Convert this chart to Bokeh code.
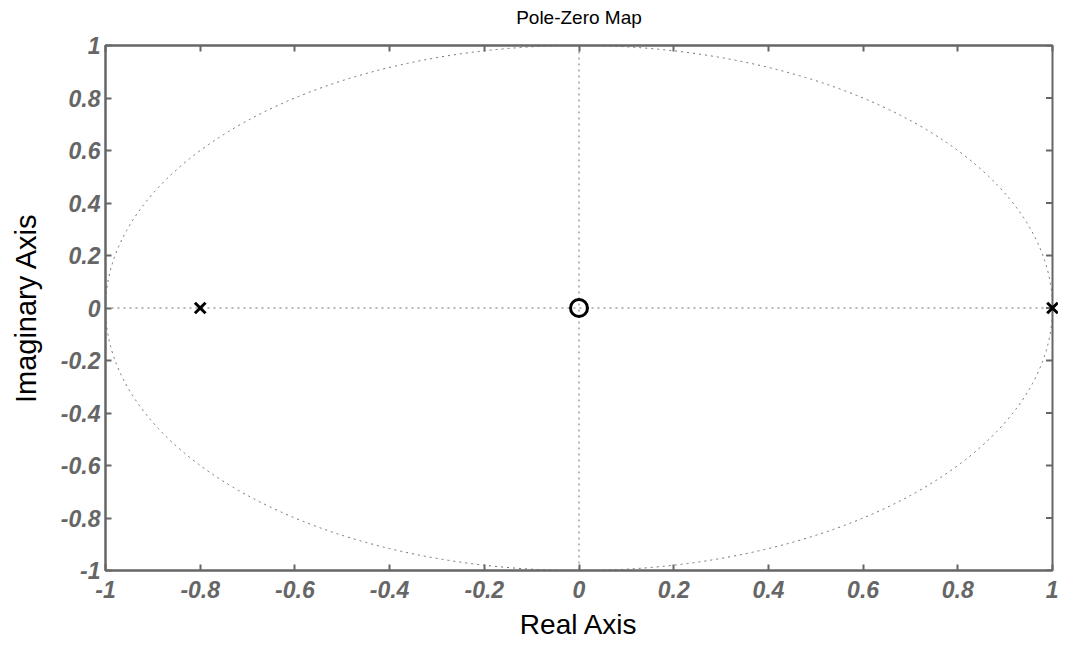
import math
from bokeh.plotting import figure
from bokeh.models import FixedTicker, Span, Range1d, LinearAxis
from bokeh.embed import file_html
from bokeh.resources import INLINE

# Data
pole_x = [-0.8, 1.0]
pole_y = [0.0, 0.0]
zero_x = [0.0]
zero_y = [0.0]
x_ticks = [-1, -0.8, -0.6, -0.4, -0.2, 0, 0.2, 0.4, 0.6, 0.8, 1]
x_tick_labels = ["-1", "-0.8", "-0.6", "-0.4", "-0.2", "0", "0.2", "0.4", "0.6", "0.8", "1"]
y_ticks = [-1, -0.8, -0.6, -0.4, -0.2, 0, 0.2, 0.4, 0.6, 0.8, 1]
y_tick_labels = ["-1", "-0.8", "-0.6", "-0.4", "-0.2", "0", "0.2", "0.4", "0.6", "0.8", "1"]
title_text = "Pole-Zero Map"

FONT = "Liberation Sans"
GREY = "#666666"
DOT = "#707070"

p = figure(width=1058, height=642, output_backend="svg", toolbar_location=None,
           x_range=Range1d(x_ticks[0], x_ticks[-1]), y_range=Range1d(y_ticks[0], y_ticks[-1]),
           min_border_left=105, min_border_right=6, min_border_top=45, min_border_bottom=72)
p.title.visible = False

p.grid.visible = False
p.outline_line_color = GREY
p.outline_line_width = 2
p.background_fill_color = "white"
p.border_fill_color = "white"

def style_axis(ax, ticks, labels):
    ax.ticker = FixedTicker(ticks=ticks)
    ax.major_label_overrides = {t: l for t, l in zip(ticks, labels)}
    ax.major_tick_in = 6
    ax.major_tick_out = 0
    ax.minor_tick_line_color = None
    ax.axis_line_color = GREY
    ax.axis_line_width = 2
    ax.major_tick_line_color = GREY
    ax.major_tick_line_width = 2
    ax.major_label_text_font = FONT
    ax.major_label_text_font_style = "bold italic"
    ax.major_label_text_color = GREY
    ax.major_label_text_font_size = "23px"
    ax.axis_label_text_font = FONT
    ax.axis_label_text_font_style = "normal"
    ax.axis_label_text_color = "black"

xa = p.xaxis[0]
ya = p.yaxis[0]
style_axis(xa, x_ticks, x_tick_labels)
style_axis(ya, y_ticks, y_tick_labels)
xa.major_label_standoff = 10
ya.major_label_standoff = 5
xa.axis_label = "Real Axis"
ya.axis_label = "Imaginary Axis"
xa.axis_label_text_font_size = "28px"
ya.axis_label_text_font_size = "29px"
xa.axis_label_standoff = 8
ya.axis_label_standoff = 16

# top axis: inward ticks along the top edge, carrying the chart title as its label
top = LinearAxis()
style_axis(top, x_ticks, x_tick_labels)
top.major_label_text_font_size = "1px"
top.major_label_text_alpha = 0
top.major_label_standoff = 0
top.axis_label = title_text
top.axis_label_text_font_size = "19px"
top.axis_label_standoff = 18
p.add_layout(top, "above")

# inward ticks on the right edge of the box
p.scatter(x=[x_ticks[-1]] * len(y_ticks), y=y_ticks, marker="dash",
          size=13, line_color=GREY, line_width=2)

# unit circle and axes through origin
p.ellipse(x=0, y=0, width=2, height=2, fill_color=None, line_color=DOT,
          line_width=1, line_dash="dotted")
p.add_layout(Span(location=0, dimension="width", line_color=DOT, line_width=1, line_dash="dotted"))
p.add_layout(Span(location=0, dimension="height", line_color=DOT, line_width=1, line_dash="dotted"))

p.scatter(pole_x, pole_y, marker="x", size=15, line_color="black", line_width=3, level="overlay")
p.scatter(zero_x, zero_y, marker="circle", size=17, fill_color=None, line_color="black",
          line_width=3, level="overlay")

open("out.html", "w").write(file_html(p, INLINE))
